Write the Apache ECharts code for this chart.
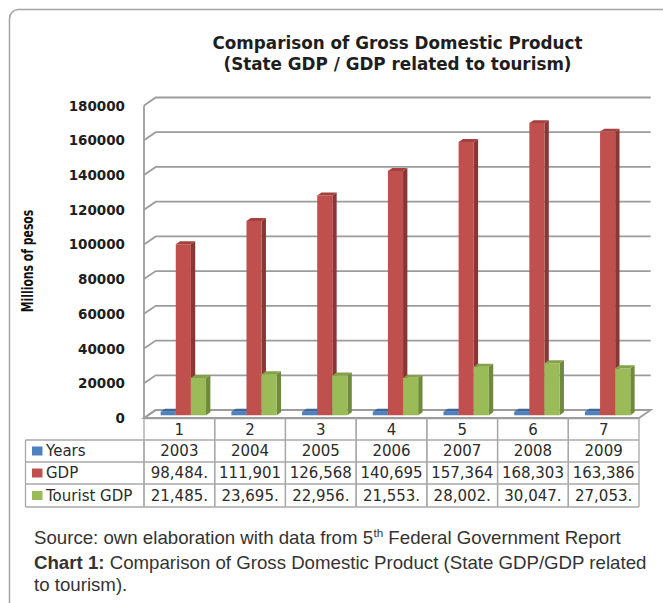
<!DOCTYPE html>
<html>
<head>
<meta charset="utf-8">
<script src="https://cdn.jsdelivr.net/npm/echarts@6/dist/echarts.min.js"></script>
<style>
html,body{margin:0;padding:0;background:#fff;}
#main{width:663px;height:603px;}
</style>
</head>
<body>
<div id="main"></div>
<script>
// ---------- data ----------
const categories = ['1', '2', '3', '4', '5', '6', '7'];
const years = [2003, 2004, 2005, 2006, 2007, 2008, 2009];
const gdp = [98484, 111901, 126568, 140695, 157364, 168303, 163386];
const touristGdp = [21485, 23695, 22956, 21553, 28002, 30047, 27053];
const yTicks = [0, 20000, 40000, 60000, 80000, 100000, 120000, 140000, 160000, 180000];
const seriesNames = ['Years', 'GDP', 'Tourist GDP'];
const titleLines = ['Comparison of Gross Domestic Product', '(State GDP / GDP related to tourism)'];
const yAxisTitle = 'Millions of pesos';

// ---------- styling ----------
const COLORS = [
  { front: '#4f81bd', side: '#385d8a', top: '#3d679b' },
  { front: '#c0504d', side: '#8a3634', top: '#a4413e' },
  { front: '#9bbb59', side: '#6f8a3c', top: '#84a24a' }
];
const DX = 11.7, DY = 8;        // 3D depth offset of the back wall
const F0 = 0.34, D = 0.37;      // bar front depth fraction and bar depth fraction
const GRID_COLOR = '#9c9c9c';
const TABLE_COLOR = '#a8a8a8';
const ROW_OFF = [0, 22, 44, 66, 89];
const TABLE_FONT = '15px "DejaVu Sans"';
const TEXT_COLOR = '#2b2b2b';

function fmtVal(v) {
  const s = v.toLocaleString('en-US');
  return v >= 100000 ? s : s + '.';
}

function wallRender(params, api) {
  const v = api.value(1);
  const y = api.coord([0, v])[1];
  const cs = params.coordSys;
  const x0 = cs.x, x1 = cs.x + cs.width;
  const children = [];
  if (params.dataIndex === 0) {
    children.push({
      type: 'polygon',
      shape: { points: [[x0, y], [x1, y], [x1 + DX, y - DY], [x0 + DX, y - DY]] },
      style: { fill: '#ffffff', stroke: GRID_COLOR, lineWidth: 1.8 }
    });
    children.push({
      type: 'line',
      shape: { x1: x0, y1: cs.y, x2: x0, y2: cs.y + cs.height },
      style: { stroke: GRID_COLOR, lineWidth: 1.8 }
    });
  }
  children.push({
    type: 'polyline',
    shape: { points: [[x0, y], [x0 + DX, y - DY], [x1 + DX, y - DY]] },
    style: { stroke: GRID_COLOR, lineWidth: 1.8, fill: null }
  });
  return { type: 'group', children: children };
}

function makeBarRender(s) {
  const col = COLORS[s];
  return function (params, api) {
    const i = api.value(0), v = api.value(1);
    const top = api.coord([i, v]);
    const base = api.coord([i, 0]);
    const band = api.size([1, 0])[0];
    const bw = band * 0.214;
    const fx = F0 * DX, fy = F0 * DY;
    const xl = top[0] - 1.5 * bw + s * bw + fx;
    const yt = top[1] - fy, yb = base[1] - fy;
    const dx = D * DX, dy = D * DY;
    return {
      type: 'group',
      children: [
        { type: 'polygon', shape: { points: [[xl + bw, yt], [xl + bw + dx, yt - dy], [xl + bw + dx, yb - dy], [xl + bw, yb]] }, style: { fill: col.side } },
        { type: 'rect', shape: { x: xl, y: yt, width: bw, height: yb - yt }, style: { fill: col.front } },
        { type: 'polygon', shape: { points: [[xl, yt], [xl + dx, yt - dy], [xl + bw + dx, yt - dy], [xl + bw, yt]] }, style: { fill: col.top } }
      ]
    };
  };
}

function tableRender(params, api) {
  const i = api.value(0);
  const cx = api.coord([i, 0])[0];
  const band = api.size([1, 0])[0];
  const cs = params.coordSys;
  const base = cs.y + cs.height;
  const l = cx - band / 2, r = cx + band / 2;
  const rows = ROW_OFF.map(o => base + o);
  const ls = { stroke: TABLE_COLOR, lineWidth: 1.3 };
  const children = [
    { type: 'line', shape: { x1: l, y1: rows[0], x2: l, y2: rows[4] }, style: ls },
    { type: 'line', shape: { x1: r, y1: rows[0], x2: r, y2: rows[4] }, style: ls }
  ];
  for (let k = 1; k < rows.length; k++) {
    children.push({ type: 'line', shape: { x1: l, y1: rows[k], x2: r, y2: rows[k] }, style: ls });
  }
  const texts = [String(api.value(1)), fmtVal(api.value(2)), fmtVal(api.value(3))];
  texts.forEach((t, k) => {
    children.push({
      type: 'text',
      x: cx, y: (rows[k + 1] + rows[k + 2]) / 2,
      style: { text: t, fill: TEXT_COLOR, font: TABLE_FONT, align: 'center', verticalAlign: 'middle' }
    });
  });
  return { type: 'group', children: children };
}

// label column of the data table
function labelColumn() {
  const L = 25.5, R = 144, rows = ROW_OFF.map(o => 418 + o);
  const els = [];
  const ls = { stroke: TABLE_COLOR, lineWidth: 1.3 };
  els.push({ type: 'line', shape: { x1: L, y1: rows[1], x2: L, y2: rows[4] }, style: ls });
  els.push({ type: 'line', shape: { x1: R, y1: rows[1], x2: R, y2: rows[4] }, style: ls });
  for (let k = 1; k < rows.length; k++) {
    els.push({ type: 'line', shape: { x1: L, y1: rows[k], x2: R, y2: rows[k] }, style: ls });
  }
  seriesNames.forEach((n, k) => {
    const cy = (rows[k + 1] + rows[k + 2]) / 2;
    els.push({ type: 'rect', shape: { x: 32, y: cy - 4.5, width: 10.5, height: 9 }, style: { fill: COLORS[k].front } });
    els.push({ type: 'text', x: 46, y: cy, style: { text: n, fill: TEXT_COLOR, font: TABLE_FONT, align: 'left', verticalAlign: 'middle' } });
  });
  return els;
}

const chart = echarts.init(document.getElementById('main'), null, { renderer: 'svg' });

const graphics = [
  { type: 'rect', shape: { x: 9.5, y: 9.5, width: 720, height: 720, r: 9 }, style: { fill: null, stroke: '#a5a5a5', lineWidth: 1.5 }, silent: true },
  { type: 'text', x: 397.5, y: 43, style: { text: titleLines[0], font: 'bold 16.8px "DejaVu Sans"', fill: '#1e1e1e', align: 'center', verticalAlign: 'middle' } },
  { type: 'text', x: 397.5, y: 64, style: { text: titleLines[1], font: 'bold 16.8px "DejaVu Sans"', fill: '#1e1e1e', align: 'center', verticalAlign: 'middle' } },
  { type: 'text', x: 27.5, y: 261, rotation: Math.PI / 2, scaleX: 0.78, style: { text: yAxisTitle, font: 'bold 15.5px "DejaVu Sans Condensed"', fill: '#111', align: 'center', verticalAlign: 'middle' } },
  {
    type: 'text', x: 34, y: 538, scaleX: 1.067,
    style: {
      text: '{n|Source: own elaboration with data from 5}{s|th}{n| Federal Government Report}',
      rich: {
        n: { font: '17.5px "Liberation Sans"', fill: '#333', lineHeight: 20 },
        s: { font: '11px "Liberation Sans"', fill: '#333', verticalAlign: 'top', lineHeight: 20 }
      },
      verticalAlign: 'middle'
    }
  },
  {
    type: 'text', x: 34, y: 574, scaleX: 1.067,
    style: {
      text: '{b|Chart 1:}{n| Comparison of Gross Domestic Product (State GDP/GDP related}\n{n|to tourism).}',
      rich: {
        b: { font: 'bold 17.5px "Liberation Sans"', fill: '#333', lineHeight: 22 },
        n: { font: '17.5px "Liberation Sans"', fill: '#333', lineHeight: 22 }
      },
      verticalAlign: 'middle'
    }
  }
].concat(labelColumn());

chart.setOption({
  backgroundColor: '#ffffff',
  animation: false,
  grid: { left: 144, right: 24, top: 105.5, bottom: 185, containLabel: false },
  xAxis: {
    type: 'category',
    data: categories,
    axisLine: { show: true, lineStyle: { color: TABLE_COLOR, width: 1.3 } },
    axisTick: { show: false },
    axisLabel: { margin: 11.5, verticalAlign: 'middle', color: TEXT_COLOR, fontFamily: 'DejaVu Sans', fontSize: 15 },
    splitLine: { show: false }
  },
  yAxis: {
    type: 'value',
    min: 0, max: 180000, interval: 20000,
    axisLine: { show: false },
    axisTick: { show: false },
    splitLine: { show: false },
    axisLabel: { margin: 19, color: '#1e1e1e', fontFamily: 'DejaVu Sans', fontWeight: 'bold', fontSize: 13.5, formatter: v => String(v) }
  },
  graphic: graphics,
  series: [
    { type: 'custom', name: 'walls', silent: true, renderItem: wallRender, data: yTicks.map(v => [0, v]), z: 1 },
    { type: 'custom', name: seriesNames[0], silent: true, renderItem: makeBarRender(0), data: years.map((v, i) => [i, v]), z: 2 },
    { type: 'custom', name: seriesNames[1], silent: true, renderItem: makeBarRender(1), data: gdp.map((v, i) => [i, v]), z: 2 },
    { type: 'custom', name: seriesNames[2], silent: true, renderItem: makeBarRender(2), data: touristGdp.map((v, i) => [i, v]), z: 2 },
    { type: 'custom', name: 'table', silent: true, renderItem: tableRender, data: categories.map((c, i) => [i, years[i], gdp[i], touristGdp[i]]), z: 3 }
  ]
});
</script>
</body>
</html>
